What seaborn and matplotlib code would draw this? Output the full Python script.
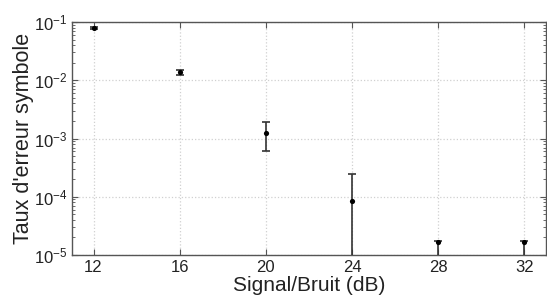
import numpy as np
import pandas as pd
import matplotlib
matplotlib.use("Agg")
import matplotlib.pyplot as plt
import seaborn as sns

# Données
snr_db = [12, 16, 20, 24, 28, 32]
taux = [7.9e-2, 1.38e-2, 1.26e-3, 8.5e-5, 1.7e-5, 1.7e-5]
err_bas = [4e-3, 1.5e-3, 6.4e-4, 1.0e-4, 1.69e-5, 1.69e-5]
err_haut = [4e-3, 1.5e-3, 6.4e-4, 1.65e-4, 3e-7, 3e-7]
x_ticks = [12, 16, 20, 24, 28, 32]

sns.set_style("white")
plt.rcParams['font.family'] = ['Liberation Sans', 'DejaVu Sans']

df = pd.DataFrame({'snr': snr_db, 'taux': taux})

fig = plt.figure(figsize=(5.47, 3.02), dpi=100)
ax = fig.add_axes([0.1316, 0.1556, 0.8664, 0.7714])

ax.errorbar(snr_db, taux, yerr=[err_bas, err_haut], fmt='none',
            ecolor='#333333', elinewidth=1.2, capsize=3, capthick=1.2, zorder=3)
sns.scatterplot(data=df, x='snr', y='taux', color='black', s=14,
                edgecolor='black', linewidth=0, ax=ax, zorder=4)

ax.set_yscale('log')
ax.set_xlim(11, 33)
ax.set_ylim(1e-5, 1e-1)
ax.set_xticks(x_ticks)
ax.set_xticklabels([str(t) for t in x_ticks])

ax.grid(True, which='major', linestyle=':', color='#d0d0d0', linewidth=0.9)
ax.tick_params(axis='both', which='both', direction='in', top=True, right=True,
               left=True, bottom=True, labelsize=12, colors='#555555',
               labelcolor='#222222')
ax.tick_params(axis='both', which='major', length=4, width=0.8)
ax.tick_params(axis='y', which='minor', length=2, width=0.6)
for sp in ax.spines.values():
    sp.set_color('#555555')
    sp.set_linewidth(1.0)

ax.set_xlabel('Signal/Bruit (dB)', fontsize=15, color='#222222', labelpad=1)
ax.set_ylabel("Taux d'erreur symbole", fontsize=15.5, color='#222222', labelpad=0)

fig.savefig('out.png', dpi=100)
